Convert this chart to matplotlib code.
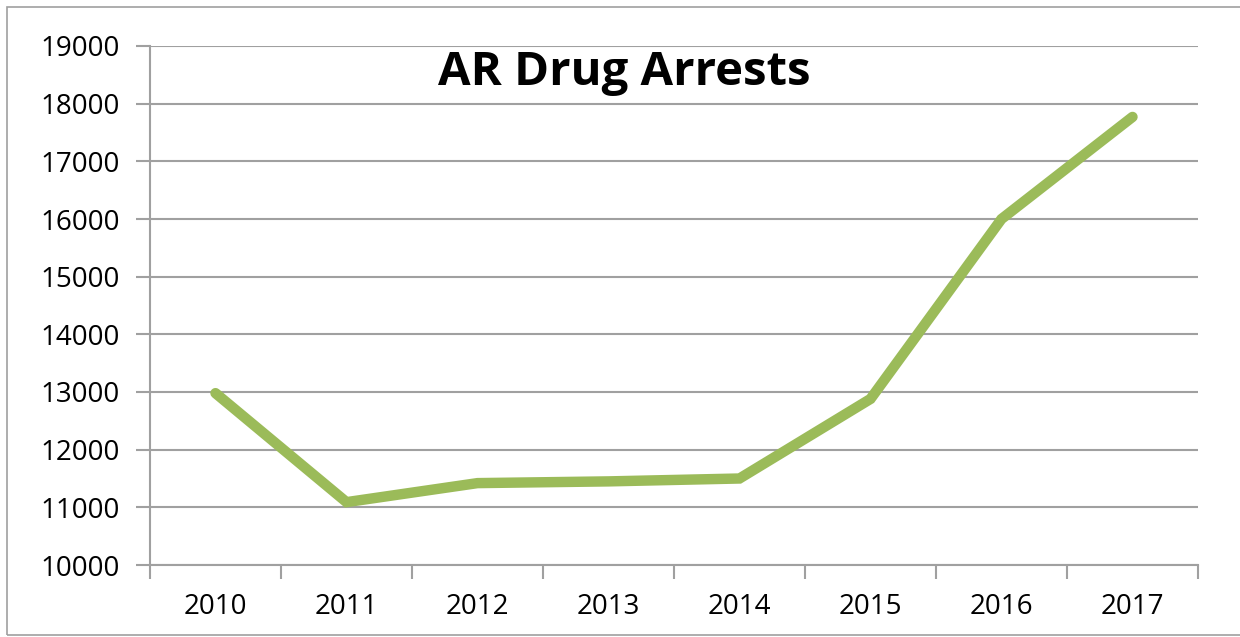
import matplotlib
matplotlib.use('Agg')
import matplotlib.pyplot as plt
from matplotlib.patches import Rectangle

# data
years = ['2010', '2011', '2012', '2013', '2014', '2015', '2016', '2017']
arrests = [12980, 11090, 11420, 11450, 11500, 12880, 16000, 17770]
y_ticks = list(range(10000, 19001, 1000))

plt.rcParams['font.family'] = ['Open Sans', 'DejaVu Sans']

W, H = 1240, 637
fig = plt.figure(figsize=(W / 100, H / 100), dpi=100)
ax = fig.add_axes([150 / W, 1 - 565 / H, (1198 - 150) / W, (565 - 46) / H])

# outer frame of the chart object
fig.patches.append(Rectangle((7 / W, 2 / H), 1.0, 1 - 9 / H, transform=fig.transFigure,
                             fill=False, edgecolor='#a0a0a0', linewidth=1.2))

x = list(range(len(years)))
ax.plot(x, arrests, color='#9bbb59', linewidth=7.5, solid_capstyle='round',
        solid_joinstyle='miter', zorder=3)

ax.set_xlim(-0.5, len(years) - 0.5)
ax.set_ylim(10000, 19000)
ax.set_yticks(y_ticks)
ax.set_yticklabels([str(v) for v in y_ticks], fontsize=20)
ax.set_xticks(x)
ax.set_xticklabels(years, fontsize=20)
ax.tick_params(axis='x', length=0, pad=20)
ax.tick_params(axis='y', length=10, color='#a0a0a0', width=1.5, pad=12)

# category boundary ticks
ax.set_xticks([i - 0.5 for i in range(len(years) + 1)], minor=True)
ax.tick_params(axis='x', which='minor', length=10, color='#a0a0a0', width=1.5)

ax.grid(axis='y', color='#a0a0a0', linewidth=1.5)
ax.set_axisbelow(True)
for side in ['top', 'right']:
    ax.spines[side].set_visible(False)
for side in ['left', 'bottom']:
    ax.spines[side].set_color('#a0a0a0')
    ax.spines[side].set_linewidth(1.5)

fig.text(624 / W, 1 - 73 / H, 'AR Drug Arrests', fontsize=34, fontweight='bold',
         ha='center', va='center')

fig.savefig('out.png', dpi=100)
